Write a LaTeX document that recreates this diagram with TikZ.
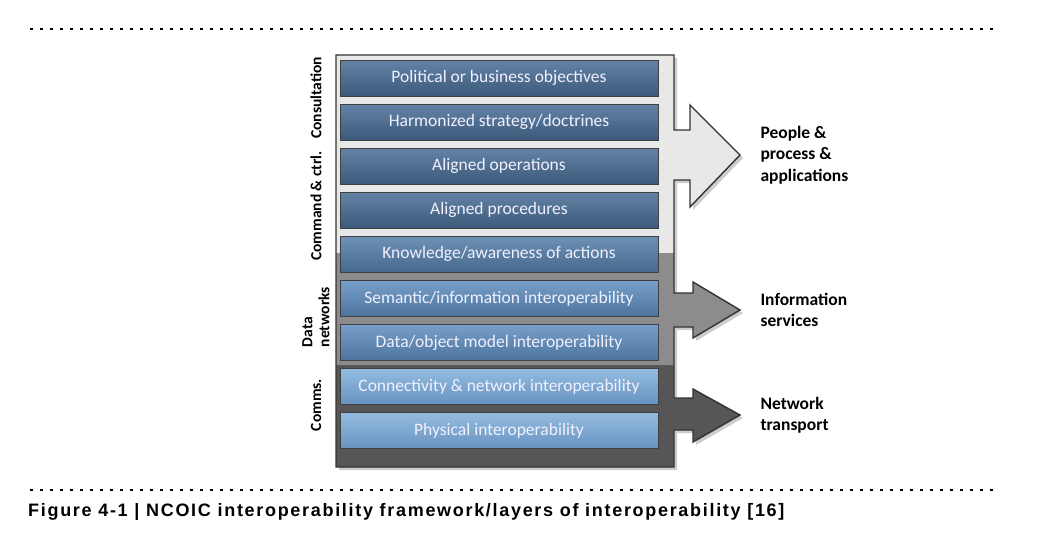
\documentclass[tikz,border=0pt]{standalone}
\usepackage{fontspec}
\setmainfont{Carlito}
\newfontfamily\capfont[LetterSpace=9.4]{Liberation Sans}
\usetikzlibrary{positioning}

\definecolor{bandlight}{HTML}{E8E8E8}
\definecolor{bandmid}{HTML}{8C8C8C}
\definecolor{banddark}{HTML}{565656}
\definecolor{topA}{HTML}{6383A6}
\definecolor{botA}{HTML}{3C5A7A}
\definecolor{topB}{HTML}{6E91B6}
\definecolor{botB}{HTML}{46688D}
\definecolor{topC}{HTML}{779FC7}
\definecolor{botC}{HTML}{4C749E}
\definecolor{topD}{HTML}{94BCE0}
\definecolor{botD}{HTML}{6893C0}

\newcommand{\stackoutline}{(336,55) -- (674,55) -- (674,130) -- (690,130) -- (690,105)
  -- (740,155) -- (690,207) -- (690,180) -- (674,180) -- (674,293) -- (693,293)
  -- (693,282) -- (740,310) -- (693,338) -- (693,327) -- (674,327) -- (674,398)
  -- (693,398) -- (693,389) -- (740,415) -- (693,442) -- (693,430) -- (674,430)
  -- (674,467) -- (336,467) -- cycle}

\begin{document}
\begin{tikzpicture}[x=1pt, y=-1pt,
  layer/.style 2 args={draw=black!75, line width=0.9pt, top color=#1, bottom color=#2,
    minimum width=318pt, minimum height=36pt, inner sep=0pt, text=white!94!blue,
    font=\fontsize{17.5}{20}\selectfont},
  sidelbl/.style={rotate=90, align=left, font=\fontsize{15.5}{17}\selectfont\bfseries},
  outlbl/.style={anchor=west, align=left, font=\fontsize{17.5}{21.5}\selectfont\bfseries},
  dotrule/.style={line width=2.6pt, dash pattern=on 2.6pt off 7.4pt}]

  \useasboundingbox (0,0) rectangle (1051,546);

  % Dotted rules
  \draw[dotrule] (30,29) -- (995,29);
  \draw[dotrule] (30,490) -- (995,490);

  % Background column with the three arrows
  \fill[black!20] [shift={(3,3)}] \stackoutline;
  \begin{scope}
    \clip \stackoutline;
    \fill[bandlight] (330,50) rectangle (750,253);
    \fill[bandmid]   (330,253) rectangle (750,365);
    \fill[banddark]  (330,365) rectangle (750,470);
    \draw[black!65, line width=0.8pt] (336,365) -- (674,365);
  \end{scope}
  \draw[black!80, line width=1.4pt, line join=miter] \stackoutline;

  % Arrow tips
  \coordinate (tip1) at (740,155);
  \coordinate (tip2) at (740,310);
  \coordinate (tip3) at (740,415);

  % Layers
  \foreach \txt/\tc/\bc [count=\i] in {
      {Political or business objectives}/topA/botA,
      {Harmonized strategy/doctrines}/topA/botA,
      {Aligned operations}/topA/botA,
      {Aligned procedures}/topA/botA,
      {Knowledge/awareness of actions}/topB/botB,
      {Semantic/information interoperability}/topC/botC,
      {Data/object model interoperability}/topC/botC,
      {Connectivity \& network interoperability}/topD/botD,
      {Physical interoperability}/topD/botD} {
    \pgfmathsetmacro{\yy}{78+44.1*(\i-1)}
    \node[layer={\tc}{\bc}] (L\i) at (499,\yy) {\txt};
  }

  % Side labels
  \node[sidelbl] (consult) at (316,98) {Consultation};
  \node[sidelbl] (cmdctrl) at (316,206) {Command \& ctrl.};
  \node[sidelbl] (datanet) at (316,317) {Data\\networks};
  \node[sidelbl] (comms) at (316,405) {Comms.};

  % Outcome labels
  \node[outlbl, right=17pt of tip1] (people) {People \&\\process \&\\applications};
  \node[outlbl, right=17pt of tip2] (info) {Information\\services};
  \node[outlbl, right=17pt of tip3] (transport) {Network\\transport};

  % Caption
  \node[anchor=west, inner sep=0pt, font=\capfont\bfseries\fontsize{18}{21}\selectfont]
    (caption) at (28,512) {Figure 4-1 | NCOIC interoperability framework/layers of interoperability [16]};

\end{tikzpicture}
\end{document}
